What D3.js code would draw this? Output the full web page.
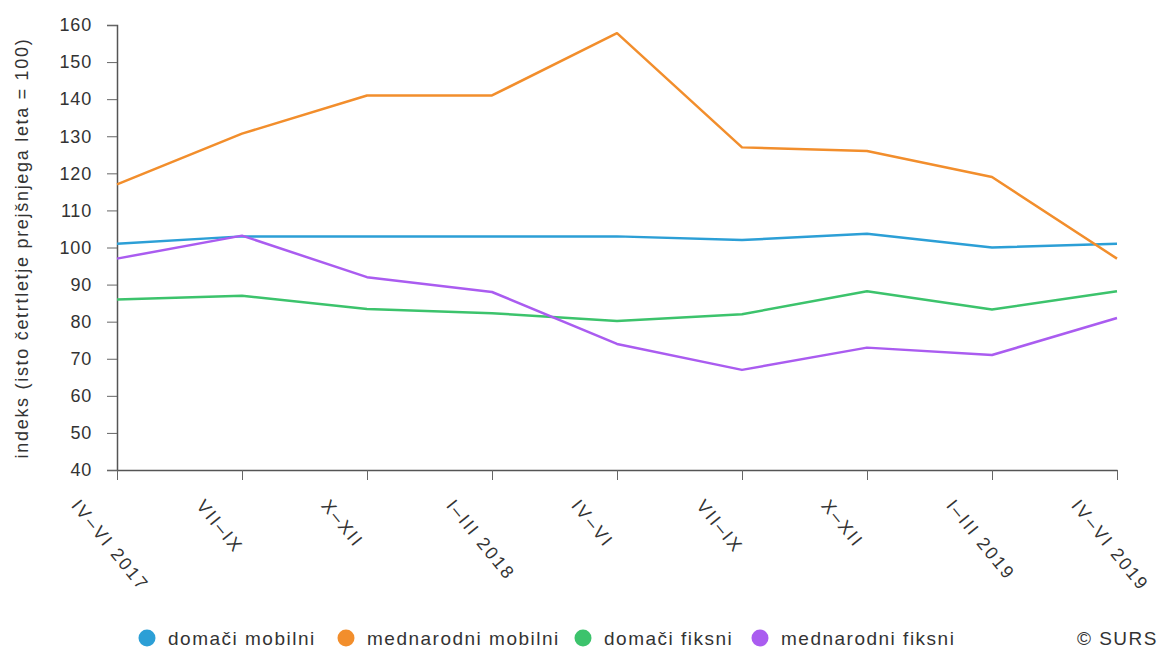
<!doctype html>
<html lang="sl">
<head>
    <meta charset="UTF-8">
    <title>d3</title>
    <script src="https://d3js.org/d3.v7.min.js"></script>
    <style>
        body { margin: 0; background: #fff; }
        text { font-family: Arial, "Liberation Sans", sans-serif; fill: #333; }
    </style>
</head>
<body>
<div class="canvas"></div>
</body>

<script>
  // kategorije (četrtletja)
  const quarters = ['IV–VI 2017', 'VII–IX', 'X–XII', 'I–III 2018', 'IV–VI', 'VII–IX ', 'X–XII ', 'I–III 2019', 'IV–VI 2019'];

  const domaciMobilni = [101, 103, 103, 103, 103, 102, 103.7, 100, 101];
  const mednarodniMobilni = [117, 130.7, 141, 141, 157.8, 127, 126, 119, 97];
  const domaciFiksni = [86, 87, 83.4, 82.3, 80.2, 82, 88.2, 83.3, 88.2];
  const mednarodniFiksni = [97, 103.2, 92, 88, 74, 67, 73, 71, 81];

  const yTicks = [40, 50, 60, 70, 80, 90, 100, 110, 120, 130, 140, 150, 160];

  const series = [
    { name: 'domači mobilni', values: domaciMobilni, color: '#2c9fd6' },
    { name: 'mednarodni mobilni', values: mednarodniMobilni, color: '#f28e2c' },
    { name: 'domači fiksni', values: domaciFiksni, color: '#3cc36c' },
    { name: 'mednarodni fiksni', values: mednarodniFiksni, color: '#aa5cf0' }
  ];

  const width = 1162, height = 656;

  const svg = d3.select('.canvas')
    .append('svg')
    .attr('width', width)
    .attr('height', height)

  const x = d3.scalePoint().domain(quarters).range([117, 1117]);
  const y = d3.scaleLinear().domain([40, 160]).range([470, 25]);

  // y os
  const yAxis = svg.append('g')
    .attr('transform', 'translate(117,0)')
    .call(d3.axisLeft(y).tickValues(yTicks).tickSize(10).tickPadding(15));
  yAxis.select('.domain').attr('stroke', '#555').attr('stroke-width', 1.5);
  yAxis.selectAll('.tick line').attr('stroke', '#666');
  yAxis.selectAll('.tick text')
    .attr('font-size', '18px')
    .attr('letter-spacing', '0.8px')
    .attr('fill', '#333')
    .attr('font-family', 'Arial, "Liberation Sans", sans-serif');

  // x os
  const xAxis = svg.append('g')
    .attr('transform', 'translate(0,470)')
    .call(d3.axisBottom(x).tickSize(10).tickSizeOuter(0));
  xAxis.select('.domain').attr('stroke', '#555').attr('stroke-width', 1.5);
  xAxis.selectAll('.tick line').attr('stroke', '#666');
  xAxis.selectAll('.tick text')
    .attr('font-size', '18px')
    .attr('letter-spacing', '2.2px')
    .attr('fill', '#333')
    .attr('font-family', 'Arial, "Liberation Sans", sans-serif')
    .attr('text-anchor', 'start')
    .attr('dy', 0)
    .attr('y', 0)
    .attr('transform', 'translate(-47,36) rotate(51)')
    .text(d => d.trim());

  // naslov y osi
  svg.append('text')
    .attr('transform', 'translate(28,248) rotate(-90)')
    .attr('text-anchor', 'middle')
    .attr('font-size', '18px')
    .attr('letter-spacing', '1.7px')
    .text('indeks (isto četrtletje prejšnjega leta = 100)');

  // črte
  const line = d3.line()
    .x((d, i) => x(quarters[i]))
    .y(d => y(d));

  svg.append('g')
    .selectAll('path')
    .data(series)
    .join('path')
    .attr('d', d => line(d.values))
    .attr('fill', 'none')
    .attr('stroke', d => d.color)
    .attr('stroke-width', 2.5)
    .attr('stroke-linejoin', 'round');

  // legenda
  const legendX = [147, 346, 583, 760];
  const legend = svg.append('g')
    .selectAll('g')
    .data(series)
    .join('g')
    .attr('transform', (d, i) => `translate(${legendX[i]},638)`);
  legend.append('circle')
    .attr('r', 8.5)
    .attr('fill', d => d.color);
  legend.append('text')
    .attr('x', 21)
    .attr('y', 6.5)
    .attr('font-size', '19px')
    .attr('letter-spacing', '1.5px')
    .text(d => d.name);

  svg.append('text')
    .attr('x', 1158)
    .attr('y', 645)
    .attr('text-anchor', 'end')
    .attr('font-size', '19px')
    .attr('letter-spacing', '1.5px')
    .text('© SURS');
</script>
</html>
